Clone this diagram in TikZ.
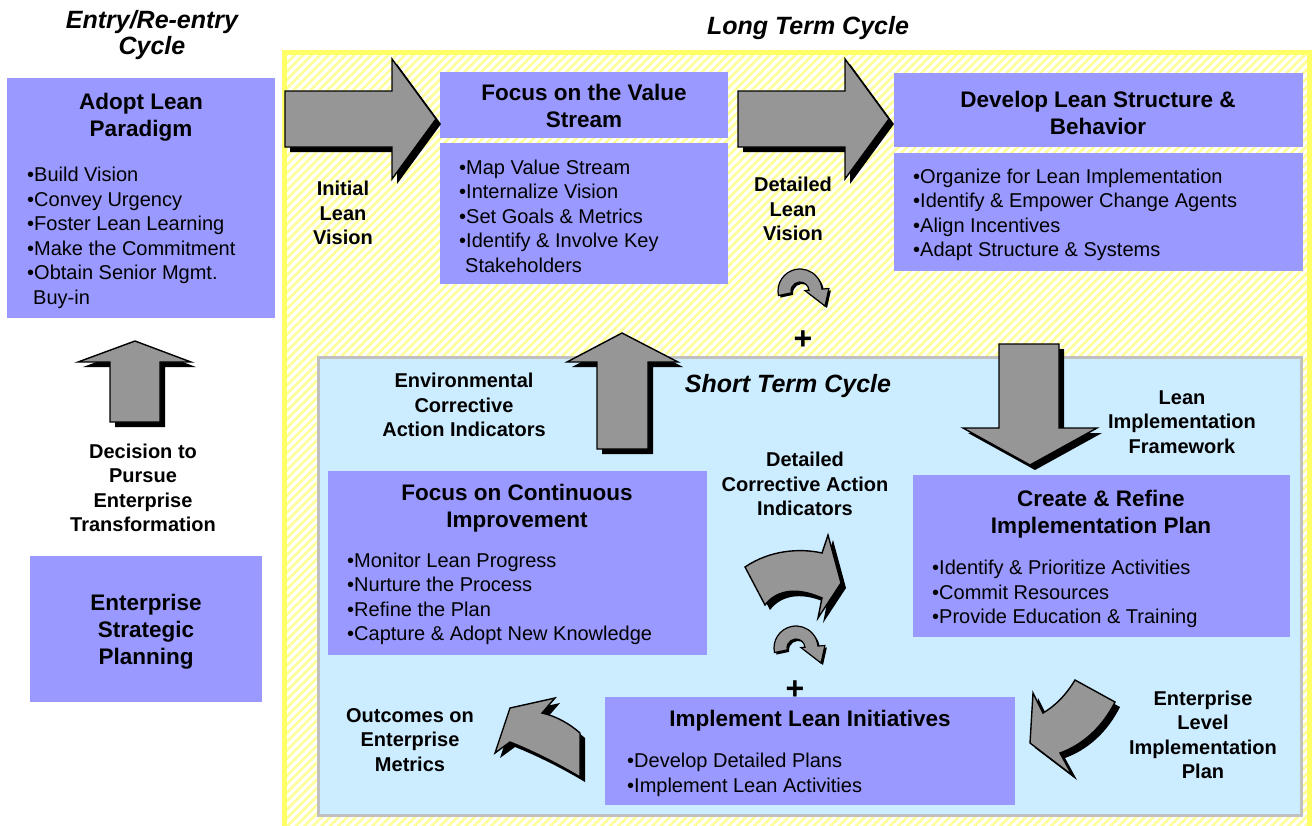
\documentclass[tikz,border=0pt]{standalone}
\usepackage{fontspec}
\setmainfont{Liberation Sans}
\usetikzlibrary{patterns.meta}
\definecolor{boxc}{HTML}{9999FF}
\definecolor{lblue}{HTML}{CCECFF}
\definecolor{agray}{HTML}{969696}
\definecolor{ybord}{HTML}{FFFF66}
\definecolor{ystripe}{HTML}{FFFF99}
\definecolor{bgray}{HTML}{C0C0C0}
\tikzset{
  box/.style={fill=boxc, draw=none, inner sep=0pt, anchor=north west},
  ttl/.style={font=\fontsize{22.5}{27}\selectfont\bfseries, align=center, inner sep=0pt},
  bul/.style={font=\fontsize{20}{24.5}\selectfont, align=left, inner sep=0pt, anchor=west},
  lbl/.style={font=\fontsize{20}{24.5}\selectfont\bfseries, align=center, inner sep=0pt},
  hdr/.style={font=\fontsize{25}{26}\selectfont\bfseries\itshape, align=center, inner sep=0pt},
  plus/.style={font=\fontsize{32}{32}\selectfont\bfseries, inner sep=0pt},
  blk/.style={fill=agray, draw=black, line width=1.4pt, line join=miter},
  shd/.style={fill=black, shift={(5,5)}},
}
\newcommand{\myarrow}[1]{\fill[shd] #1; \filldraw[blk] #1;}
\begin{document}
\begin{tikzpicture}[x=1pt, y=-1pt]
\useasboundingbox (0,0) rectangle (1312,825);
\clip (0,0) rectangle (1312,825);
\fill[white] (0,0) rectangle (1312,825);

% long term cycle frame
\fill[pattern={Lines[angle=45,distance=6pt,line width=2.6pt]}, pattern color=ystripe] (284,52) rectangle (1309,830);
\draw[ybord, line width=5pt] (284,52) rectangle (1309,830);

% short term cycle box
\filldraw[fill=lblue, draw=bgray, line width=3pt] (318,357) rectangle (1301,815);

% boxes
\node[box, minimum width=268pt, minimum height=240pt] (adoptbox) at (7,78) {};
\node[box, minimum width=232pt, minimum height=146pt] (espbox) at (30,556) {};
\node[box, minimum width=288pt, minimum height=66pt] (fvst) at (440,72) {};
\node[box, minimum width=288pt, minimum height=141pt] (fvsb) at (440,143) {};
\node[box, minimum width=409pt, minimum height=74pt] (dlst) at (894,73) {};
\node[box, minimum width=409pt, minimum height=118pt] (dlsb) at (894,153) {};
\node[box, minimum width=379pt, minimum height=184pt] (fcibox) at (328,471) {};
\node[box, minimum width=377pt, minimum height=162pt] (crbox) at (913,475) {};
\node[box, minimum width=410pt, minimum height=108pt] (ilibox) at (605,697) {};

% straight block arrows
\myarrow{(285,91) -- (392,91) -- (392,59) -- (436,119) -- (392,179) -- (392,147) -- (285,147) -- cycle}
\myarrow{(738,91) -- (845,91) -- (845,59) -- (889,119) -- (845,179) -- (845,147) -- (738,147) -- cycle}
\myarrow{(110,422) -- (110,362) -- (78,362) -- (135,341) -- (191,362) -- (160,362) -- (160,422) -- cycle}
\myarrow{(597,449) -- (597,362) -- (567,362) -- (622,333) -- (678,362) -- (648,362) -- (648,449) -- cycle}
\myarrow{(999,344) -- (1059,344) -- (1059,428) -- (1097,428) -- (1030,465) -- (963,428) -- (999,428) -- cycle}

% curved block arrows
\myarrow{(745,567) .. controls (770,550) and (800,548) .. (822,553) -- (828,535) -- (841,583) -- (818,618) -- (822,598) .. controls (800,588) and (778,588) .. (765,605) -- cycle}
\myarrow{(555,698) -- (542,713) .. controls (556,716) and (570,724) .. (580,733) -- (580,777) .. controls (560,765) and (535,752) .. (510,742) -- (495,753) -- (510,708) -- cycle}
\myarrow{(1075,680) -- (1115,702) .. controls (1102,728) and (1082,745) .. (1060,753) -- (1072,775) -- (1030,743) -- (1033,693) -- (1043,713) .. controls (1055,706) and (1066,695) .. (1075,680) -- cycle}

% small circular arrows
\begin{scope}[shift={(800,291)}, x=1pt, y=1pt]
\fill[black, shift={(2,-2)}] (192:22) arc[start angle=192, end angle=5, radius=22] -- (5:29) -- (25,-15) -- (5:5) -- (5:9) arc[start angle=5, end angle=192, radius=9] -- cycle;
\filldraw[blk, line width=1.2pt] (192:22) arc[start angle=192, end angle=5, radius=22] -- (5:29) -- (25,-15) -- (5:5) -- (5:9) arc[start angle=5, end angle=192, radius=9] -- cycle;
\end{scope}
\begin{scope}[shift={(796,648)}, x=1pt, y=1pt]
\fill[black, shift={(2,-2)}] (192:22) arc[start angle=192, end angle=5, radius=22] -- (5:29) -- (25,-15) -- (5:5) -- (5:9) arc[start angle=5, end angle=192, radius=9] -- cycle;
\filldraw[blk, line width=1.2pt] (192:22) arc[start angle=192, end angle=5, radius=22] -- (5:29) -- (25,-15) -- (5:5) -- (5:9) arc[start angle=5, end angle=192, radius=9] -- cycle;
\end{scope}

% texts
\node[hdr] (hentry) at (152,35) {Entry/Re-entry\\Cycle};
\node[hdr] (hlong) at (808,28) {Long Term Cycle};
\node[hdr] (hshort) at (788,386) {Short Term Cycle};

\node[ttl] (tadopt) at (141,117) {Adopt Lean\\Paradigm};
\node[bul] (badopt) at (27,238) {•Build Vision\\•Convey Urgency\\•Foster Lean Learning\\•Make the Commitment\\•Obtain Senior Mgmt.\\\hspace{6pt}Buy-in};
\node[ttl] (tesp) at (146,632) {Enterprise\\Strategic\\Planning};
\node[lbl] (ldec) at (143,488) {Decision to\\Pursue\\Enterprise\\Transformation};
\node[lbl] (linit) at (343,213) {Initial\\Lean\\Vision};

\node[ttl] (tfvs) at (584,106) {Focus on the Value\\Stream};
\node[bul] (bfvs) at (459,216) {•Map Value Stream\\•Internalize Vision\\•Set Goals \& Metrics\\•Identify \& Involve Key\\\hspace{6pt}Stakeholders};
\node[lbl] (ldet) at (793,209) {Detailed\\Lean\\Vision};
\node[ttl] (tdev) at (1098,113) {Develop Lean Structure \&\\Behavior};
\node[bul] (bdev) at (913,215) {•Organize for Lean Implementation\\•Identify \& Empower Change Agents\\•Align Incentives\\•Adapt Structure \& Systems};

\node[plus] (p1) at (803,340) {+};
\node[lbl] (lenv) at (464,405) {Environmental\\Corrective\\Action Indicators};
\node[lbl] (llif) at (1182,422) {Lean\\Implementation\\Framework};
\node[lbl] (ldca) at (805,484) {Detailed\\Corrective Action\\Indicators};

\node[ttl] (tfci) at (517,508) {Focus on Continuous\\Improvement};
\node[bul] (bfci) at (347,599) {•Monitor Lean Progress\\•Nurture the Process\\•Refine the Plan\\•Capture \& Adopt New Knowledge};
\node[ttl] (tcr) at (1101,514) {Create \& Refine\\Implementation Plan};
\node[bul] (bcr) at (932,594) {•Identify \& Prioritize Activities\\•Commit Resources\\•Provide Education \& Training};
\node[ttl] (tili) at (810,721) {Implement Lean Initiatives};
\node[bul] (bili) at (627,775) {•Develop Detailed Plans\\•Implement Lean Activities};
\node[lbl] (lout) at (410,740) {Outcomes on\\Enterprise\\Metrics};
\node[lbl] (lelip) at (1203,735) {Enterprise\\Level\\Implementation\\Plan};
\node[plus] (p2) at (795,690) {+};
\end{tikzpicture}
\end{document}
